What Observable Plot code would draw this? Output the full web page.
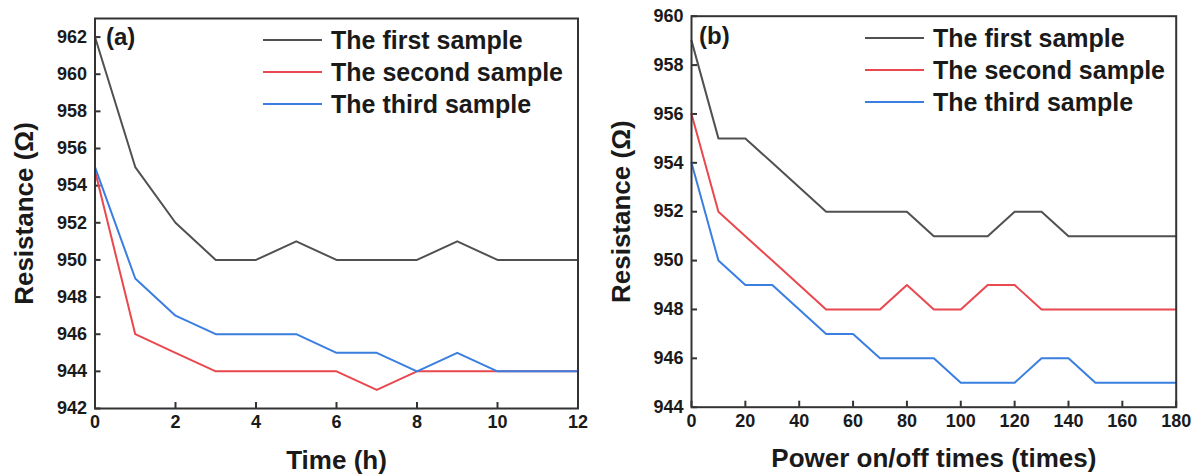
<!DOCTYPE html>
<html>
<head>
<meta charset="utf-8">
<script src="https://cdn.jsdelivr.net/npm/d3@7"></script>
<script src="https://cdn.jsdelivr.net/npm/@observablehq/plot@0.6"></script>
<style>
  html, body { margin: 0; padding: 0; background: #fff; }
  #wrap { position: relative; width: 1197px; height: 475px; overflow: hidden;
          font-family: "Liberation Sans", Arial, sans-serif; font-weight: bold; color: #1a1a1a; }
  .panel { position: absolute; top: 0; }
  .panel svg g[aria-label$="axis label"] text { font-size: 26px; }
  .legend { position: absolute; font-size: 25px; line-height: 32px; }
  .legend .row { display: flex; align-items: center; height: 32px; white-space: nowrap; }
  .legend .sw { display: inline-block; width: 59px; height: 2px; margin-right: 9px; }
  .tag { position: absolute; font-size: 24px; line-height: 24px; }
</style>
</head>
<body>
<div id="wrap">
  <div id="pa" class="panel" style="left:0"></div>
  <div id="pb" class="panel" style="left:598px"></div>
  <div class="tag" style="left:106px;top:25px">(a)</div>
  <div class="tag" style="left:699px;top:24px">(b)</div>
  <div id="legA" class="legend" style="left:263px;top:24px"></div>
  <div id="legB" class="legend" style="left:865px;top:22px"></div>
</div>
<script>
// ---- data ----
const seriesNames = ["The first sample", "The second sample", "The third sample"];

const timeH = [0, 1, 2, 3, 4, 5, 6, 7, 8, 9, 10, 11, 12];
const aFirst  = [962, 955, 952, 950, 950, 951, 950, 950, 950, 951, 950, 950, 950];
const aSecond = [954.8, 946, 945, 944, 944, 944, 944, 943, 944, 944, 944, 944, 944];
const aThird  = [955, 949, 947, 946, 946, 946, 945, 945, 944, 945, 944, 944, 944];
const aXTicks = [0, 2, 4, 6, 8, 10, 12];
const aYTicks = [942, 944, 946, 948, 950, 952, 954, 956, 958, 960, 962];

const cycles = [0, 10, 20, 30, 40, 50, 60, 70, 80, 90, 100, 110, 120, 130, 140, 150, 160, 170, 180];
const bFirst  = [959, 955, 955, 954, 953, 952, 952, 952, 952, 951, 951, 951, 952, 952, 951, 951, 951, 951, 951];
const bSecond = [956, 952, 951, 950, 949, 948, 948, 948, 949, 948, 948, 949, 949, 948, 948, 948, 948, 948, 948];
const bThird  = [954, 950, 949, 949, 948, 947, 947, 946, 946, 946, 945, 945, 945, 946, 946, 945, 945, 945, 945];
const bXTicks = [0, 20, 40, 60, 80, 100, 120, 140, 160, 180];
const bYTicks = [944, 946, 948, 950, 952, 954, 956, 958, 960];

const colors = ["#505050", "#e8484e", "#3a7ee0"];

function longTable(xs, seriesVals) {
  const rows = [];
  seriesVals.forEach((vals, i) => vals.forEach((v, j) => rows.push({x: xs[j], y: v, s: seriesNames[i]})));
  return rows;
}

const baseStyle = {fontFamily: "'Liberation Sans', Arial, sans-serif", fontSize: "18px", fontWeight: "bold", color: "#1a1a1a", background: "transparent", overflow: "visible"};

function panel({xs, series, xDomain, yDomain, xTicks, yTicks, xLabel, width, ml, mr, mt, mb}) {
  const data = longTable(xs, series);
  return Plot.plot({
    width, height: 475, marginLeft: ml, marginRight: mr, marginTop: mt, marginBottom: mb,
    style: baseStyle,
    x: {domain: xDomain},
    y: {domain: yDomain},
    color: {domain: seriesNames, range: colors},
    marks: [
      Plot.axisX({ticks: xTicks, tickSize: -6, tickPadding: 13, strokeWidth: 2, stroke: "#333",
                  label: xLabel, labelAnchor: "center", labelArrow: "none", labelOffset: 60}),
      Plot.axisY({ticks: yTicks, tickSize: -6, tickPadding: 14, strokeWidth: 2, stroke: "#333",
                  label: "Resistance (Ω)", labelAnchor: "center", labelArrow: "none", labelOffset: 80}),
      Plot.line(data, {x: "x", y: "y", z: "s", stroke: "s", strokeWidth: 2}),
      Plot.frame({stroke: "#333", strokeWidth: 2})
    ]
  });
}

document.getElementById("pa").append(panel({
  xs: timeH, series: [aFirst, aSecond, aThird], xDomain: [0, 12], yDomain: [942, 963],
  xTicks: aXTicks, yTicks: aYTicks, xLabel: "Time (h)",
  width: 598, ml: 94.5, mr: 20.5, mt: 18, mb: 67
}));
document.getElementById("pb").append(panel({
  xs: cycles, series: [bFirst, bSecond, bThird], xDomain: [0, 180], yDomain: [944, 960],
  xTicks: bXTicks, yTicks: bYTicks, xLabel: "Power on/off times (times)",
  width: 599, ml: 93, mr: 21.3, mt: 15.7, mb: 68.3
}));

function legend(id) {
  const el = document.getElementById(id);
  seriesNames.forEach((n, i) => {
    const row = document.createElement("div");
    row.className = "row";
    const sw = document.createElement("span");
    sw.className = "sw";
    sw.style.background = colors[i];
    const t = document.createElement("span");
    t.textContent = n;
    row.append(sw, t);
    el.append(row);
  });
}
legend("legA");
legend("legB");
</script>
</body>
</html>
